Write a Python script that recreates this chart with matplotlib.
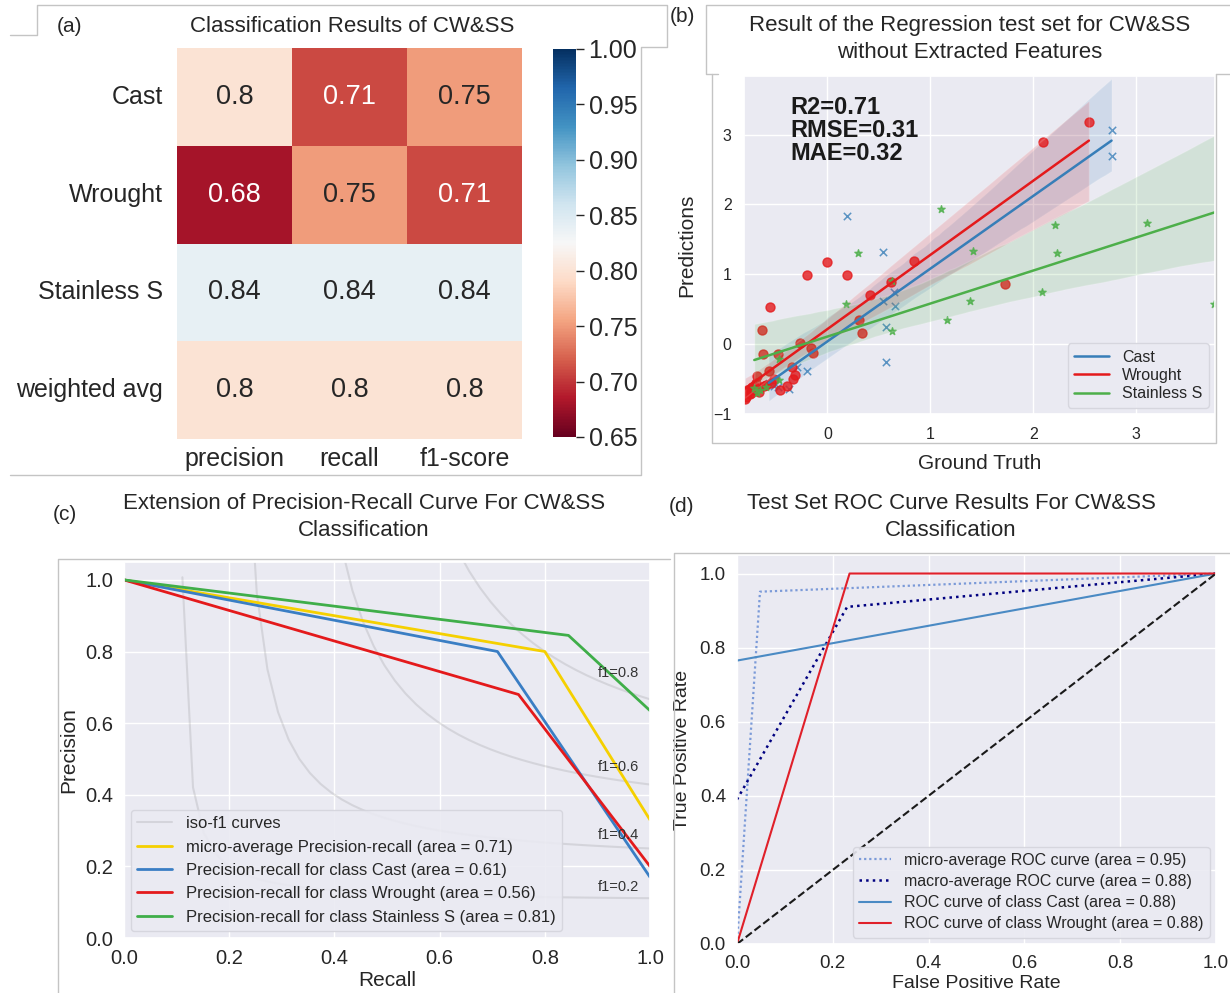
import numpy as np
import matplotlib
matplotlib.use("Agg")
import matplotlib.pyplot as plt
import seaborn as sns
from matplotlib.lines import Line2D

# ---- (a) classification report ----
rows = ["Cast", "Wrought", "Stainless S", "weighted avg"]
cols = ["precision", "recall", "f1-score"]
report = [[0.80, 0.71, 0.75],
          [0.68, 0.75, 0.71],
          [0.84, 0.84, 0.84],
          [0.80, 0.80, 0.80]]

# ---- (b) regression test set ----
cast_x = [2.76, 2.76, 0.195, 0.54, 0.645, 0.54, 0.66, 0.57, 0.57, -0.195, -0.30, -0.37, -0.48, -0.57, -0.52]
cast_y = [3.07, 2.70, 1.84, 1.32, 0.74, 0.62, 0.54, 0.24, -0.26, -0.39, -0.33, -0.64, -0.62, -0.55, -0.60]

wrought_x = [2.54, 2.09, 0.84, 1.73, 0.00, -0.20, 0.19, -0.56, -0.64, 0.41, 0.62, 0.31, 0.34,
             -0.27, -0.16, -0.14, -0.63, -0.48, -0.57, -0.34, -0.31, -0.33, -0.39, -0.46,
             -0.68, -0.69, -0.62, -0.73, -0.77, -0.79, -0.75, -0.71, -0.66, -0.60, -0.55,
             -0.52, -0.78, -0.80, -0.74, -0.70]
wrought_y = [3.18, 2.90, 1.19, 0.86, 1.17, 0.99, 0.99, 0.53, 0.20, 0.70, 0.89, 0.34, 0.16,
             0.02, -0.05, -0.12, -0.14, -0.14, -0.38, -0.33, -0.44, -0.50, -0.60, -0.66,
             -0.45, -0.55, -0.60, -0.62, -0.69, -0.75, -0.72, -0.66, -0.68, -0.58, -0.55,
             -0.50, -0.65, -0.78, -0.70, -0.62]

stainless_x = [1.107, 3.107, 2.21, 2.23, 1.41, 0.30, 2.08, 1.39, 1.16, 3.76, 0.18, 0.63, 0.63,
               -0.47, -0.47, -0.71, -0.65, -0.60, -0.68]
stainless_y = [1.93, 1.73, 1.70, 1.30, 1.33, 1.30, 0.75, 0.62, 0.35, 0.58, 0.58, 0.19, 0.90,
               -0.21, -0.52, -0.63, -0.66, -0.62, -0.70]

metrics_text = "R2=0.71\nRMSE=0.31\nMAE=0.32"

# ---- (c) precision-recall ----
micro_recall = [0.0, 0.80, 1.0]
micro_precision = [1.0, 0.80, 0.33]
cast_recall = [0.0, 0.71, 1.0]
cast_precision = [1.0, 0.80, 0.17]
wrought_recall = [0.0, 0.75, 1.0]
wrought_precision = [1.0, 0.68, 0.20]
stain_recall = [0.0, 0.845, 1.0]
stain_precision = [1.0, 0.845, 0.635]
f_scores = [0.2, 0.4, 0.6, 0.8]

# ---- (d) ROC ----
micro_fpr = [0.0, 0.048, 1.0]
micro_tpr = [0.0, 0.951, 1.0]
macro_fpr = [0.0, 0.23, 1.0]
macro_tpr = [0.39, 0.91, 1.0]
cast_fpr = [0.0, 1.0]
cast_tpr = [0.765, 1.0]
wrought_fpr = [0.0, 0.235, 1.0]
wrought_tpr = [0.0, 1.0, 1.0]

sns.set_theme(style="darkgrid")
plt.rcParams["font.family"] = ["Liberation Sans", "DejaVu Sans"]

W, H = 1230, 993
fig = plt.figure(figsize=(W / 100, H / 100), dpi=100)


def box(x0, y0, x1, y1):
    return [x0 / W, 1 - y1 / H, (x1 - x0) / W, (y1 - y0) / H]


def ftext(x, y, s, **kw):
    fig.text(x / W, 1 - y / H, s, **kw)


def frame(xs, ys):
    fig.add_artist(Line2D([x / W for x in xs], [1 - y / H for y in ys],
                          transform=fig.transFigure, color="#c4c4c4", lw=1))


txt = "#262626"

# screenshot borders
frame([10, 37, 37, 667, 667, 641, 641, 10], [35, 35, 5, 5, 47, 47, 475, 475])
frame([1230, 706, 706, 718], [5, 5, 74, 74])
frame([1216, 1230], [74, 74])
frame([712, 712, 1216, 1216], [74, 443, 443, 74])
frame([58, 58, 670], [993, 559, 559])
frame([674, 674, 1230], [993, 553, 553])

# ---------------- (a) ----------------
ax_a = fig.add_axes(box(177, 48, 522, 439))
cax = fig.add_axes(box(553, 49, 576, 437))
sns.heatmap(np.array(report), annot=True, cmap="RdBu", vmin=0.65, vmax=1.0,
            xticklabels=cols, yticklabels=rows, ax=ax_a, cbar_ax=cax,
            annot_kws={"size": 19.5})
ax_a.tick_params(axis="y", labelsize=18, length=0, pad=10, rotation=0)
ax_a.tick_params(axis="x", labelsize=18, length=0, pad=6)
cax.tick_params(labelsize=18, length=6, width=1, color=txt, pad=3, right=True)
cax.set_yticks([0.65, 0.70, 0.75, 0.80, 0.85, 0.90, 0.95, 1.00])
cax.set_yticklabels(["0.65", "0.70", "0.75", "0.80", "0.85", "0.90", "0.95", "1.00"])
ftext(70, 26, "(a)", fontsize=15, ha="center", va="center", color=txt)
ftext(352, 26, "Classification Results of CW&SS", fontsize=16, ha="center", va="center", color=txt)

# ---------------- (b) ----------------
ax_b = fig.add_axes(box(744, 76, 1215, 414))
c_blue, c_red, c_green = "#377eb8", "#e41a1c", "#4daf4a"
sns.regplot(x=np.array(cast_x), y=np.array(cast_y), ax=ax_b, color=c_blue, marker="x",
            scatter_kws={"s": 28, "linewidths": 1.1}, line_kws={"lw": 1.8}, seed=0, truncate=True)
sns.regplot(x=np.array(wrought_x), y=np.array(wrought_y), ax=ax_b, color=c_red, marker="o",
            scatter_kws={"s": 42}, line_kws={"lw": 1.8}, seed=0, truncate=True)
sns.regplot(x=np.array(stainless_x), y=np.array(stainless_y), ax=ax_b, color=c_green, marker="*",
            scatter_kws={"s": 30}, line_kws={"lw": 1.8}, seed=0, truncate=True)
ax_b.set_xlim(-0.81, 3.765)
ax_b.set_ylim(-1.0, 3.84)
ax_b.set_xticks([0, 1, 2, 3])
ax_b.set_yticks([-1, 0, 1, 2, 3])
ax_b.tick_params(labelsize=11.5, length=0, pad=9)
ax_b.set_xlabel("Ground Truth", fontsize=15, labelpad=9)
ax_b.set_ylabel("Predictions", fontsize=15, labelpad=12)
ax_b.text(-0.355, 3.56, metrics_text, fontsize=17, fontweight="bold", va="top",
          ha="left", linespacing=1.0, color="#1a1a1a")
ax_b.legend(handles=[Line2D([], [], color=c_blue, lw=1.8),
                     Line2D([], [], color=c_red, lw=1.8),
                     Line2D([], [], color=c_green, lw=1.8)],
            labels=["Cast", "Wrought", "Stainless S"], loc="lower right",
            fontsize=11.5, labelspacing=0.2, handlelength=2.2, borderaxespad=0.4,
            frameon=True, facecolor="#EAEAF2", edgecolor="#d4d4dc", framealpha=0.9)
ftext(682, 17, "(b)", fontsize=15, ha="center", va="center", color=txt)
ftext(970, 39, "Result of the Regression test set for CW&SS\nwithout Extracted Features",
      fontsize=16, ha="center", va="center", color=txt, linespacing=1.35)

# ---------------- (c) ----------------
ax_c = fig.add_axes(box(124, 562, 650, 938))
for i, f in enumerate(f_scores):
    xs = np.linspace(0.01, 1)
    ys = f * xs / (2 * xs - f)
    ax_c.plot(xs[ys >= 0], ys[ys >= 0], color="gray", alpha=0.2, lw=1.5,
              label="iso-f1 curves" if i == 0 else None)
    ax_c.annotate("f1={0:0.1f}".format(f), xy=(0.9, ys[45] + 0.02), fontsize=10.5, color="#333333")
ax_c.plot(micro_recall, micro_precision, color="#f5d000", lw=2,
          label="micro-average Precision-recall (area = 0.71)")
ax_c.plot(cast_recall, cast_precision, color="#3a7ec4", lw=2,
          label="Precision-recall for class Cast (area = 0.61)")
ax_c.plot(wrought_recall, wrought_precision, color="#e41a1c", lw=2,
          label="Precision-recall for class Wrought (area = 0.56)")
ax_c.plot(stain_recall, stain_precision, color="#3fae49", lw=2,
          label="Precision-recall for class Stainless S (area = 0.81)")
ax_c.set_xlim(0.0, 1.0)
ax_c.set_ylim(0.0, 1.05)
ax_c.set_xticks([0, 0.2, 0.4, 0.6, 0.8, 1.0])
ax_c.set_yticks([0, 0.2, 0.4, 0.6, 0.8, 1.0])
ax_c.tick_params(labelsize=14.5, length=0, pad=8)
ax_c.set_xlabel("Recall", fontsize=15, labelpad=2)
ax_c.set_ylabel("Precision", fontsize=15, labelpad=5)
ax_c.legend(loc="lower left", fontsize=12, labelspacing=0.5, handlelength=2.1,
            borderaxespad=0.4, frameon=True, facecolor="#EAEAF2", edgecolor="#d4d4dc",
            framealpha=0.9)
ftext(65, 515, "(c)", fontsize=15, ha="center", va="center", color=txt)
ftext(364, 517, "Extension of Precision-Recall Curve For CW&SS\nClassification",
      fontsize=16, ha="center", va="center", color=txt, linespacing=1.35)

# ---------------- (d) ----------------
ax_d = fig.add_axes(box(737, 555, 1216, 944))
ax_d.plot(micro_fpr, micro_tpr, color="#7b9ad8", lw=1.6, linestyle=(0, (1, 1.3)),
          label="micro-average ROC curve (area = 0.95)")
ax_d.plot(macro_fpr, macro_tpr, color="navy", lw=1.8, linestyle=":",
          label="macro-average ROC curve (area = 0.88)")
ax_d.plot(cast_fpr, cast_tpr, color="#4a8ac4", lw=1.5,
          label="ROC curve of class Cast (area = 0.88)")
ax_d.plot(wrought_fpr, wrought_tpr, color="#e0202a", lw=1.5,
          label="ROC curve of class Wrought (area = 0.88)")
ax_d.plot([0, 1], [0, 1], "k--", lw=1.5)
ax_d.set_xlim(0.0, 1.0)
ax_d.set_ylim(0.0, 1.05)
ax_d.set_xticks([0, 0.2, 0.4, 0.6, 0.8, 1.0])
ax_d.set_yticks([0, 0.2, 0.4, 0.6, 0.8, 1.0])
ax_d.tick_params(labelsize=13.5, length=0, pad=8)
ax_d.set_xlabel("False Positive Rate", fontsize=14, labelpad=2)
ax_d.set_ylabel("True Positive Rate", fontsize=14, labelpad=6)
ax_d.legend(loc="lower right", fontsize=11.5, labelspacing=0.38, handlelength=2.0,
            borderaxespad=0.4, frameon=True, facecolor="#EAEAF2", edgecolor="#d4d4dc",
            framealpha=0.9)
ftext(682, 507, "(d)", fontsize=15, ha="center", va="center", color=txt)
ftext(951, 517, "Test Set ROC Curve Results For CW&SS\nClassification",
      fontsize=16, ha="center", va="center", color=txt, linespacing=1.35)

fig.savefig("out.png", dpi=100)
